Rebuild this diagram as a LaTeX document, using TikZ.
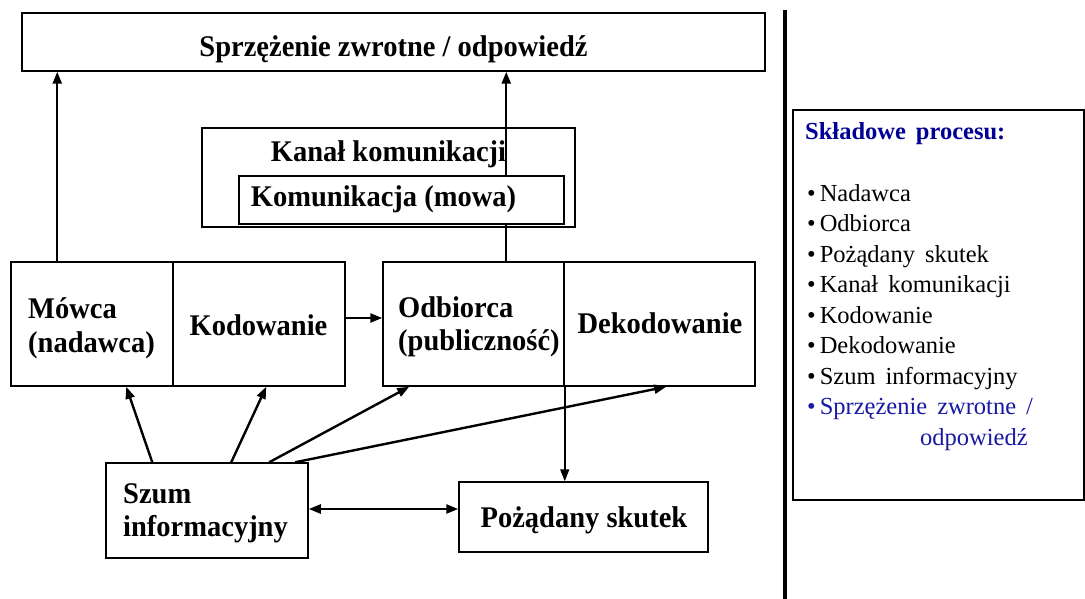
\documentclass[tikz,border=0pt]{standalone}
\usepackage{fontspec}
\setmainfont{Liberation Serif}
\newfontfamily\diagfont{Liberation Serif}[FakeStretch=0.95]
\usetikzlibrary{arrows.meta,calc}
\definecolor{navy}{RGB}{0,0,150}
\definecolor{itemblue}{RGB}{25,25,165}
\newcommand\widespaces{\spaceskip=10pt plus 2pt\relax}

\begin{document}
\begin{tikzpicture}[x=1pt,y=-1pt,
  frame/.style={draw, line width=1.5pt, inner sep=0pt},
  boxtext/.style={inner sep=0pt, anchor=base, font=\diagfont\bfseries\fontsize{30}{34}\selectfont},
  boxtextl/.style={boxtext, anchor=base west},
  tip/.tip={Triangle[length=12pt,width=9pt]},
  arr/.style={line width=2.4pt, -tip},
  darr/.style={line width=2.4pt, tip-tip},
  thinarr/.style={line width=1.6pt, -tip},
  itemtext/.style={anchor=base west, inner sep=0pt,
    font=\fontsize{24.5}{26}\selectfont\widespaces}]

\fill[white] (0,0) rectangle (1085,599);
\useasboundingbox (0,0) rectangle (1085,599);

% feedback box across the top
\node[frame, minimum width=743pt, minimum height=58pt] (fb) at (393.5,42) {};
\node[boxtext] (fbtxt) at (393.5,57) {Sprzężenie zwrotne / odpowiedź};

% communication channel
\node[frame, minimum width=373pt, minimum height=99pt] (kanal) at (388.5,177.5) {};
\node[boxtext] (kanaltxt) at (388.5,162) {Kanał komunikacji};

% sender / encoding and receiver / decoding
\node[frame, minimum width=162pt, minimum height=124pt] (mowca) at (92,324) {};
\node[frame, minimum width=172pt, minimum height=124pt] (kod) at (259,324) {};
\node[frame, minimum width=181pt, minimum height=124pt] (odb) at (473.5,324) {};
\node[frame, minimum width=191pt, minimum height=124pt] (dek) at (659.5,324) {};
\node[boxtextl] (mowcatxt) at (28,318) {Mówca};
\node[boxtextl] (nadawcatxt) at (28,352) {(nadawca)};
\node[boxtext] (kodtxt) at (258.5,335) {Kodowanie};
\node[boxtextl] (odbtxt) at (398,317) {Odbiorca};
\node[boxtextl] (publtxt) at (398,350) {(publiczność)};
\node[boxtext] (dektxt) at (660,333) {Dekodowanie};

% noise and desired effect
\node[frame, minimum width=202pt, minimum height=95pt] (szum) at (207,510.5) {};
\node[boxtextl] (szumtxt) at (123,503) {Szum};
\node[boxtextl] (infotxt) at (123,536) {informacyjny};
\node[frame, minimum width=249pt, minimum height=70pt] (skutek) at (583.5,517) {};
\node[boxtext] (skutektxt) at (584,527) {Pożądany skutek};

% feedback arrows
\coordinate (m1) at ($(mowca.north west)+(47,0)$);
\coordinate (o1) at ($(odb.north west)+(124,0)$);
\draw[arr] (m1) -- (m1 |- fb.south);
\draw[arr] (o1) -- (o1 |- fb.south);

% speech box sits on top of the feedback line
\node[frame, fill=white, minimum width=325pt, minimum height=48pt] (mowa) at (401.5,200) {};
\node[boxtext] (mowatxt) at (383.5,207) {Komunikacja (mowa)};

% message flow
\draw[arr] ($(kod.east)+(0,-6)$) -- ($(odb.west)+(0,-6)$);
\draw[thinarr] (odb.south east) -- (odb.south east |- skutek.north);
\draw[darr] ($(szum.east)+(0,-1.5)$) -- ($(szum.east -| skutek.west)+(0,-1.5)$);

% noise disturbs every stage
\draw[arr] ($(szum.north west)+(47,0)$) -- ($(mowca.south west)+(116,0)$);
\draw[arr] ($(szum.north west)+(126,0)$) -- ($(kod.south west)+(94,0)$);
\draw[arr] ($(szum.north west)+(164,0)$) -- ($(odb.south west)+(27,0)$);
\draw[arr] ($(szum.north west)+(190,0)$) -- ($(dek.south west)+(103,0)$);

% separator
\coordinate (septop) at (785,10);
\coordinate (sepbot) at (785,599);
\draw[line width=3.5pt] (septop) -- (sepbot);

% list of components
\node[frame, minimum width=291pt, minimum height=390pt] (panel) at (938.5,305) {};
\node[anchor=base west, inner sep=0pt, text=navy,
  font=\bfseries\fontsize{24.5}{26}\selectfont\widespaces] (ptitle) at (805,140) {Składowe procesu:};
\node[itemtext] (i1) at (807,201) {•\hspace{4pt}Nadawca};
\node[itemtext] (i2) at (807,231.5) {•\hspace{4pt}Odbiorca};
\node[itemtext] (i3) at (807,262) {•\hspace{4pt}Pożądany skutek};
\node[itemtext] (i4) at (807,292.5) {•\hspace{4pt}Kanał komunikacji};
\node[itemtext] (i5) at (807,323) {•\hspace{4pt}Kodowanie};
\node[itemtext] (i6) at (807,353.5) {•\hspace{4pt}Dekodowanie};
\node[itemtext] (i7) at (807,384) {•\hspace{4pt}Szum informacyjny};
\node[itemtext, text=itemblue] (i8) at (807,414.5) {•\hspace{4pt}Sprzężenie zwrotne /};
\node[itemtext, text=itemblue] (i9) at (920,445) {odpowiedź};

\end{tikzpicture}
\end{document}
